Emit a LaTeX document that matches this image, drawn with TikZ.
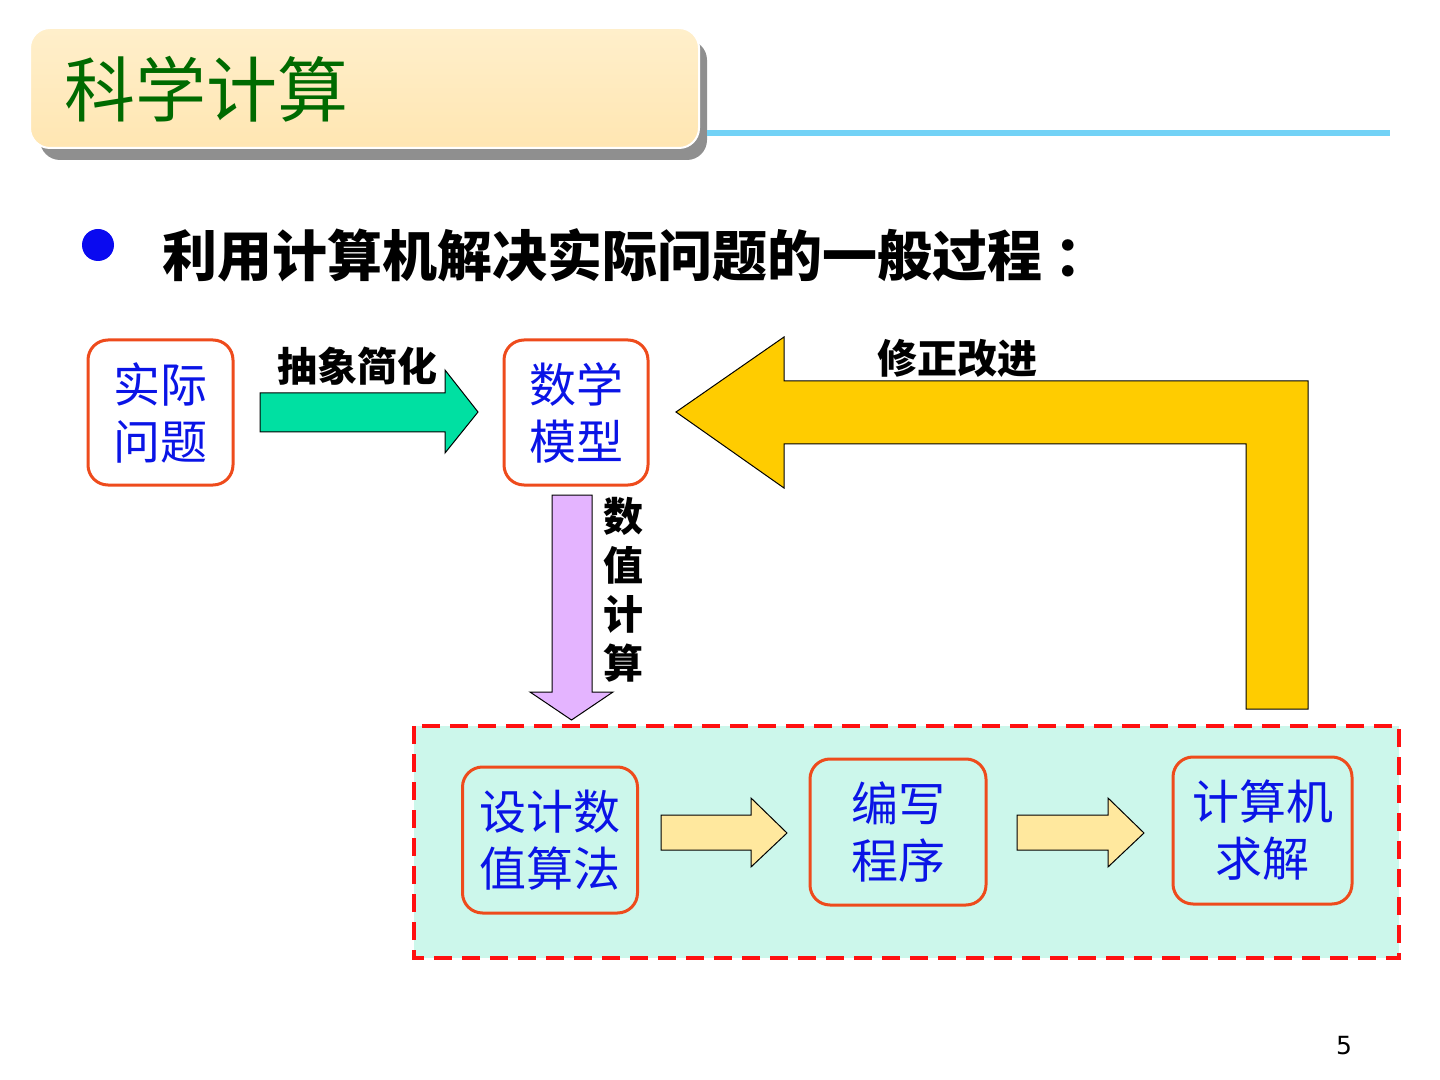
\documentclass[tikz,border=0pt]{standalone}
\usepackage{fontspec}
\newfontfamily\cjk{Noto Sans CJK SC}
\newfontfamily\dv{DejaVu Sans}
\definecolor{boxred}{HTML}{EE4B1C}
\definecolor{boxblue}{HTML}{0A14E6}
\definecolor{titlegreen}{HTML}{006A00}
\definecolor{titlefill}{HTML}{FFE6B2}
\definecolor{titlefilltop}{HTML}{FFEFCB}
\definecolor{shadowgray}{HTML}{8F8F8F}
\definecolor{linecyan}{HTML}{72D2F6}
\definecolor{bulletblue}{HTML}{0A0AF0}
\definecolor{mint}{HTML}{00E0A2}
\definecolor{gold}{HTML}{FFCC00}
\definecolor{lilac}{HTML}{E4B4FF}
\definecolor{paleyellow}{HTML}{FFE89E}
\definecolor{panel}{HTML}{CCF7EB}
\definecolor{dashred}{HTML}{FF1010}
\tikzset{
  box/.style={draw=boxred, line width=1.5pt, rounded corners=10pt, align=center,
    text=boxblue, inner sep=0pt, font=\cjk\fontsize{23.5pt}{28.5pt}\selectfont},
  blockarrow/.style={draw=black, line width=0.5pt},
  lbl/.style={inner sep=0pt, font=\cjk\bfseries\fontsize{20pt}{24pt}\selectfont, text=black}
}
\begin{document}
\begin{tikzpicture}[x=0.5pt,y=-0.5pt]
\useasboundingbox (0,0) rectangle (1440,1080);
% title
\fill[shadowgray, rounded corners=10pt] (40,40) rectangle (707,160);
\shade[top color=titlefilltop, bottom color=titlefill, rounded corners=10pt] (30,28) rectangle (699,148);
\draw[white, line width=1pt, rounded corners=10pt] (30,28) rectangle (699,148);
\fill[linecyan] (707,130) rectangle (1390,136);
\node[inner sep=0pt, anchor=west, text=titlegreen, font=\cjk\fontsize{35.5pt}{40pt}\selectfont] (title) at (64,89) {科学计算};
% bullet
\fill[bulletblue] (98,245) circle (16);
\node[inner sep=0pt, anchor=west, font=\cjk\bfseries\fontsize{27.5pt}{32pt}\selectfont] (subtitle) at (162,255) {利用计算机解决实际问题的一般过程\hspace{6pt}：};
% panel
\draw[dashred, fill=panel, line width=2.4pt, dash pattern=on 9pt off 5pt] (414,726) rectangle (1399,958);
% boxes
\node[box, minimum width=72.5pt, minimum height=72.5pt] (real) at (160.5,412.5) {实际\\问题};
\node[box, minimum width=72pt, minimum height=72.5pt] (model) at (576,412.5) {数学\\模型};
\node[box, minimum width=87.5pt, minimum height=73pt] (algo) at (550,840) {设计数\\值算法};
\node[box, minimum width=88pt, minimum height=73pt] (prog) at (898,832) {编写\\程序};
\node[box, minimum width=89.5pt, minimum height=73.5pt] (solve) at (1262.5,830.5) {计算机\\求解};
% green arrow
\draw[blockarrow, fill=mint] (260,393) -- (445,393) -- (445,370) -- (478,412) -- (445,453) -- (445,432) -- (260,432) -- cycle;
\node[lbl] (l1) at (357,366) {抽象简化};
% yellow L arrow
\draw[blockarrow, fill=gold] (676,412) -- (784,337) -- (784,381) -- (1308,381) -- (1308,709) -- (1246,709) -- (1246,444) -- (784,444) -- (784,488) -- cycle;
\node[lbl] (l2) at (957,358) {修正改进};
% purple arrow
\draw[blockarrow, fill=lilac] (552,495) -- (592,495) -- (592,692) -- (613,692) -- (571.5,720) -- (530,692) -- (552,692) -- cycle;
\node[lbl, align=center, font=\cjk\bfseries\fontsize{20pt}{24.5pt}\selectfont] (l3) at (623,590) {数\\值\\计\\算};
% pale arrows
\draw[blockarrow, fill=paleyellow] (661,815) -- (751,815) -- (751,798) -- (787,833) -- (751,867) -- (751,850) -- (661,850) -- cycle;
\draw[blockarrow, fill=paleyellow] (1017,815) -- (1108,815) -- (1108,798) -- (1144,833) -- (1108,867) -- (1108,850) -- (1017,850) -- cycle;
% page number
\node[inner sep=0pt, font=\dv\fontsize{12.5pt}{15pt}\selectfont] (pg) at (1344,1046) {5};
\end{tikzpicture}
\end{document}
